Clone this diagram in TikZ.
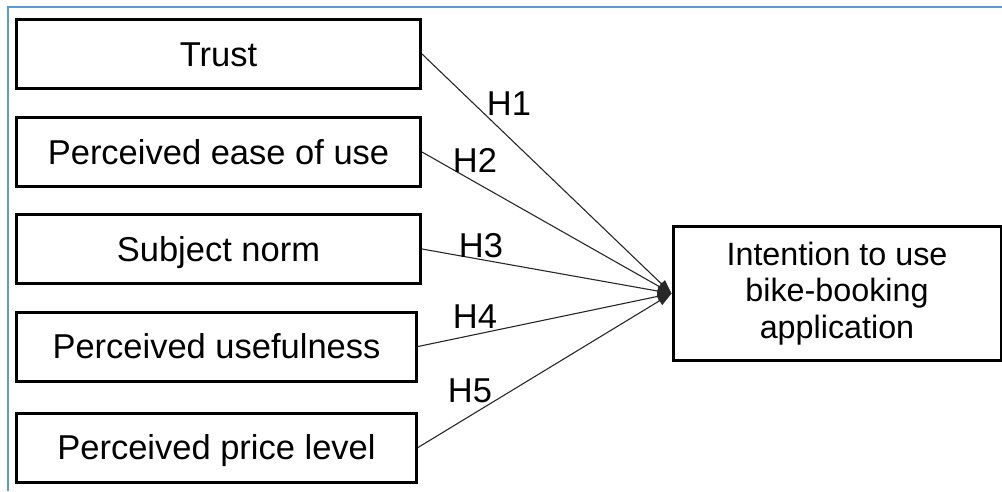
\documentclass[tikz,border=0pt]{standalone}
\usepackage{fontspec}
\setmainfont{Liberation Sans}
\usetikzlibrary{arrows.meta}
\definecolor{frameblue}{RGB}{91,155,213}
\definecolor{linegray}{RGB}{40,40,40}
\begin{document}
\begin{tikzpicture}[x=1pt,y=-1pt,
  font=\fontsize{34.5}{36.5}\selectfont,
  factor/.style={draw=black, line width=3pt, rectangle, minimum height=69pt, inner sep=0pt, text height=24.7pt, text depth=0pt},
  outcome/.style={draw=black, line width=3pt, rectangle, minimum width=328pt, minimum height=134pt, align=center, inner sep=0pt, font=\fontsize{32.3}{36.5}\selectfont},
  link/.style={draw=linegray, line width=1.1pt, -{Triangle[length=14pt,width=10pt]}},
  hyp/.style={inner sep=0pt, text height=24.7pt, text depth=0pt}]
\useasboundingbox (0,0) rectangle (1002,491);
\draw[frameblue, line width=2pt] (1002,7) -- (8,7) -- (8,491);

\node[factor, minimum width=404pt] (trust) at (218.5,54) {Trust};
\node[factor, minimum width=404pt] (ease) at (218.5,152) {Perceived ease of use};
\node[factor, minimum width=404pt] (norm) at (218.5,249) {Subject norm};
\node[factor, minimum width=400pt] (useful) at (216.5,346.5) {Perceived usefulness};
\node[factor, minimum width=400pt] (price) at (216.5,447.5) {Perceived price level};

\node[outcome] (intent) at (837,293.5) {Intention to use\\bike-booking\\application};

\draw[link] (trust.east) -- (intent.west);
\draw[link] (ease.east) -- (intent.west);
\draw[link] (norm.east) -- (intent.west);
\draw[link] (useful.east) -- (intent.west);
\draw[link] (price.east) -- (intent.west);

\node[hyp] (h1) at (509,103) {H1};
\node[hyp] (h2) at (475,160) {H2};
\node[hyp] (h3) at (481,245) {H3};
\node[hyp] (h4) at (475,316) {H4};
\node[hyp] (h5) at (470,390) {H5};
\end{tikzpicture}
\end{document}
